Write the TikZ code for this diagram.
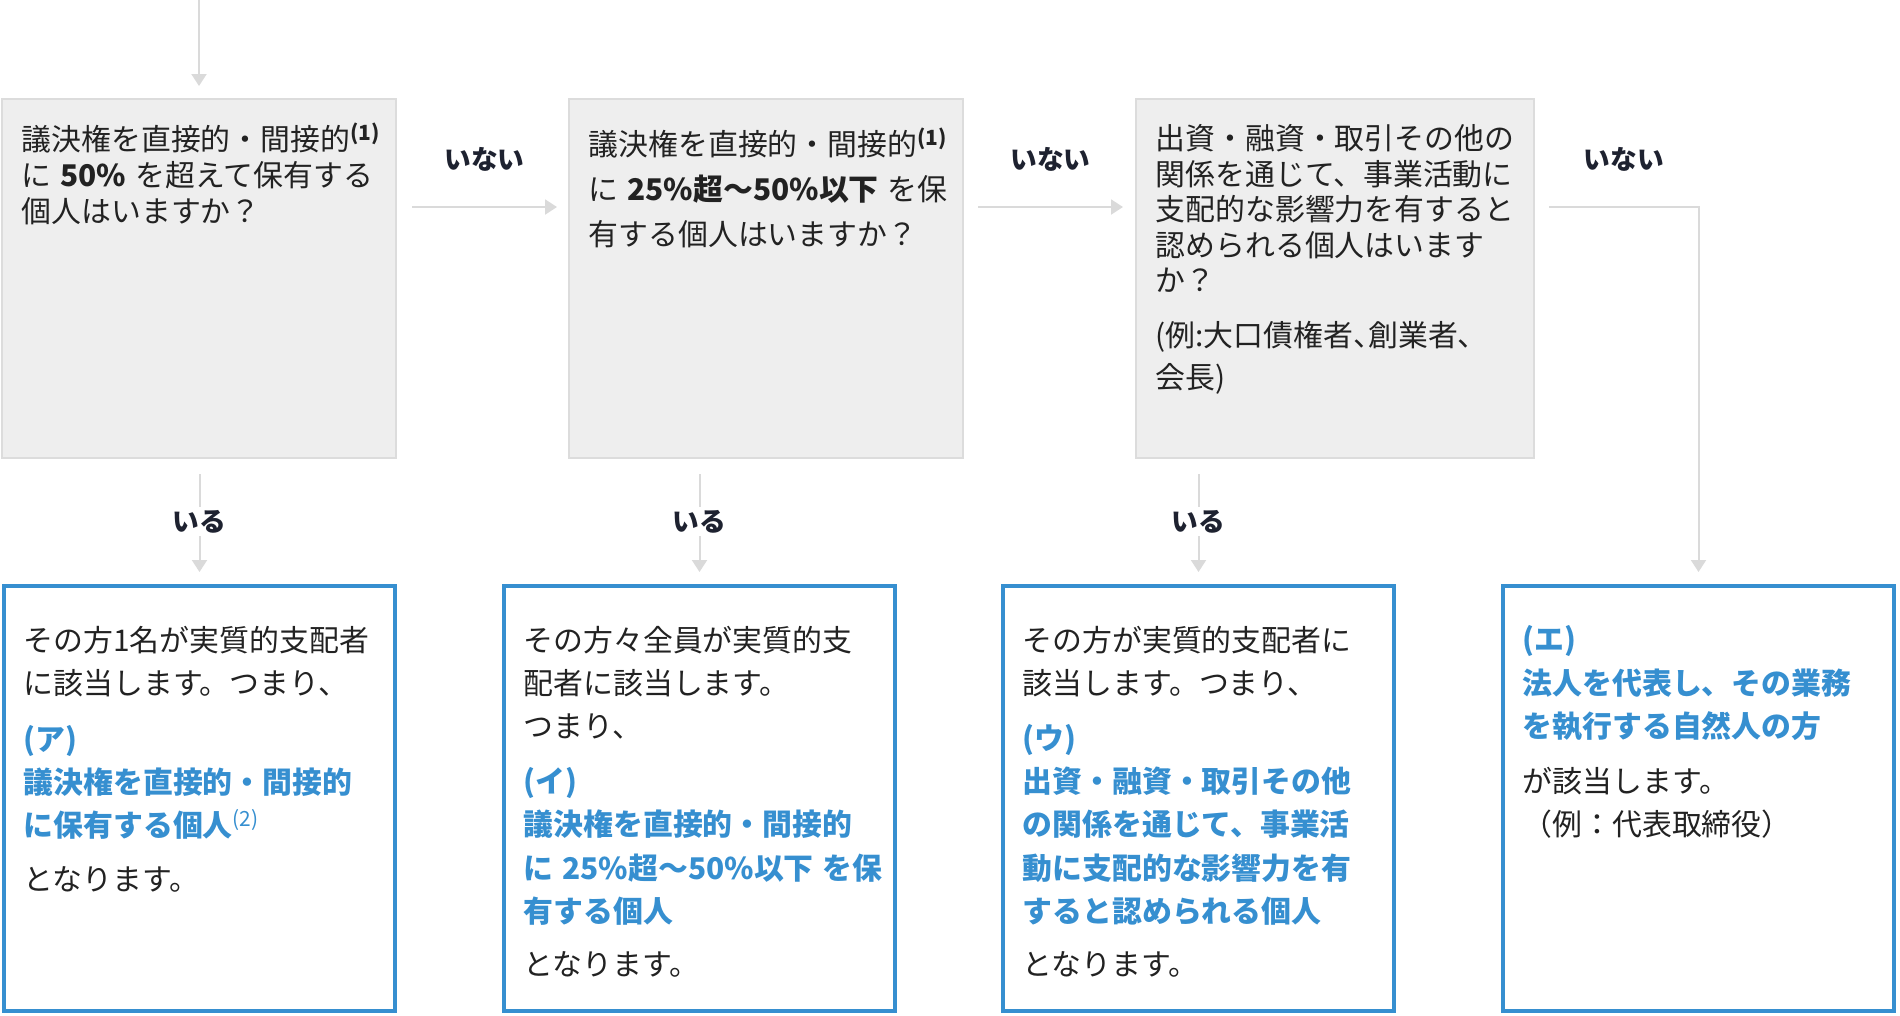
\documentclass[tikz,border=0pt]{standalone}
\usepackage{fontspec}
\setmainfont{Noto Sans CJK JP}
\definecolor{qgray}{RGB}{238,238,238}
\definecolor{qline}{RGB}{220,220,220}
\definecolor{arrowgray}{RGB}{218,218,218}
\definecolor{ansblue}{RGB}{54,143,208}
\definecolor{inkdark}{RGB}{34,34,34}
\definecolor{lbldark}{RGB}{30,34,48}
\usetikzlibrary{arrows.meta, positioning}
\newcommand{\keyhl}[1]{{\bfseries\color{ansblue}#1}}
\newcommand{\gap}{\hspace{0.09cm}}

\begin{document}
\begin{tikzpicture}[
  qbox/.style={draw=qline, line width=0.02cm, fill=qgray, minimum height=3.59cm, inner sep=0pt},
  abox/.style={draw=ansblue, line width=0.04cm, minimum width=3.91cm, minimum height=4.25cm, inner sep=0pt},
  qtext/.style={inner sep=0pt, text width=3.8cm, align=left, text=inkdark},
  atext/.style={inner sep=0pt, text width=3.7cm, align=left, text=inkdark, font=\fontsize{8.5}{12.3}\selectfont},
  flow/.style={draw=arrowgray, line width=0.02cm, -{Triangle[width=0.15cm, length=0.12cm]}},
  lbl/.style={font=\fontsize{7.6}{9}\selectfont\bfseries, text=lbldark, inner sep=1pt}
]
  \useasboundingbox (0,0) rectangle (19,-10.15);

  % question boxes
  \node[qbox, minimum width=3.94cm] (q1) at (1.99,-2.785) {};
  \node[qbox, minimum width=3.94cm] (q2) at (7.66,-2.785) {};
  \node[qbox, minimum width=3.98cm] (q3) at (13.35,-2.785) {};

  \node[qtext, font=\fontsize{8.5}{10.25}\selectfont, below right=0.24cm and 0.20cm of q1.north west] (q1txt) {
    議決権を直接的・間接的\textsuperscript{\textbf{(1)}}\\
    に\gap\textbf{50\%}\gap を超えて保有する\\
    個人はいますか？};
  \node[qtext, font=\fontsize{8.5}{12.8}\selectfont, below right=0.29cm and 0.20cm of q2.north west] (q2txt) {
    議決権を直接的・間接的\textsuperscript{\textbf{(1)}}\\
    に\gap\textbf{25\%超〜50\%以下}\gap を保\\
    有する個人はいますか？};
  \node[qtext, font=\fontsize{8.5}{10.1}\selectfont, below right=0.26cm and 0.20cm of q3.north west] (q3txt) {
    出資・融資・取引その他の\\
    関係を通じて、事業活動に\\
    支配的な影響力を有すると\\
    認められる個人はいます\\
    か？\\[0.195cm]
    {\addfontfeatures{RawFeature=+palt}(例:大口債権者、創業者、}\\[0.065cm]
    会長)};

  % answer boxes
  \node[abox] (r1) at (1.995,-7.985) {};
  \node[abox] (r2) at (6.995,-7.985) {};
  \node[abox] (r3) at (11.985,-7.985) {};
  \node[abox] (r4) at (16.985,-7.985) {};

  \node[atext, below right=0.41cm and 0.21cm of r1.north west] (r1txt) {
    その方1名が実質的支配者\\
    に該当します。つまり、\\[0.13cm]
    \keyhl{(ア)}\\
    \keyhl{議決権を直接的・間接的}\\
    \keyhl{に保有する個人}{\color{ansblue}\textsuperscript{(2)}}\\[0.10cm]
    となります。};
  \node[atext, below right=0.41cm and 0.21cm of r2.north west] (r2txt) {
    その方々全員が実質的支\\
    配者に該当します。\\
    つまり、\\[0.12cm]
    \keyhl{(イ)}\\
    \keyhl{議決権を直接的・間接的}\\
    \keyhl{に\gap 25\%超〜50\%以下\gap を保}\\
    \keyhl{有する個人}\\[0.10cm]
    となります。};
  \node[atext, below right=0.41cm and 0.21cm of r3.north west] (r3txt) {
    その方が実質的支配者に\\
    該当します。つまり、\\[0.12cm]
    \keyhl{(ウ)}\\
    \keyhl{出資・融資・取引その他}\\
    \keyhl{の関係を通じて、事業活}\\
    \keyhl{動に支配的な影響力を有}\\
    \keyhl{すると認められる個人}\\[0.10cm]
    となります。};
  \node[atext, below right=0.41cm and 0.21cm of r4.north west] (r4txt) {
    \keyhl{(エ)}\\
    \keyhl{法人を代表し、その業務}\\
    \keyhl{を執行する自然人の方}\\[0.12cm]
    が該当します。\\
    （例：代表取締役）};

  % connectors
  \coordinate (start) at (1.99,0);
  \draw[flow, shorten >=0.12cm] (start) -- (q1);
  \draw[flow] ([xshift=0.15cm, yshift=0.715cm]q1.east) -- node[lbl, yshift=0.48cm] (no1) {いない} ([xshift=-0.11cm, yshift=0.715cm]q2.west);
  \draw[flow] ([xshift=0.14cm, yshift=0.715cm]q2.east) -- node[lbl, yshift=0.48cm] (no2) {いない} ([xshift=-0.12cm, yshift=0.715cm]q3.west);
  \draw[flow, shorten >=0.12cm] ([xshift=0.14cm, yshift=0.715cm]q3.east) -| node[lbl, pos=0.25, yshift=0.48cm] (no3) {いない} (r4);

  \draw[flow, shorten <=0.15cm, shorten >=0.12cm] (r1.north |- q1.south) -- node[lbl, fill=white] (yes1) {いる} (r1);
  \draw[flow, shorten <=0.15cm, shorten >=0.12cm] (r2.north |- q2.south) -- node[lbl, fill=white] (yes2) {いる} (r2);
  \draw[flow, shorten <=0.15cm, shorten >=0.12cm] (r3.north |- q3.south) -- node[lbl, fill=white] (yes3) {いる} (r3);
\end{tikzpicture}
\end{document}
